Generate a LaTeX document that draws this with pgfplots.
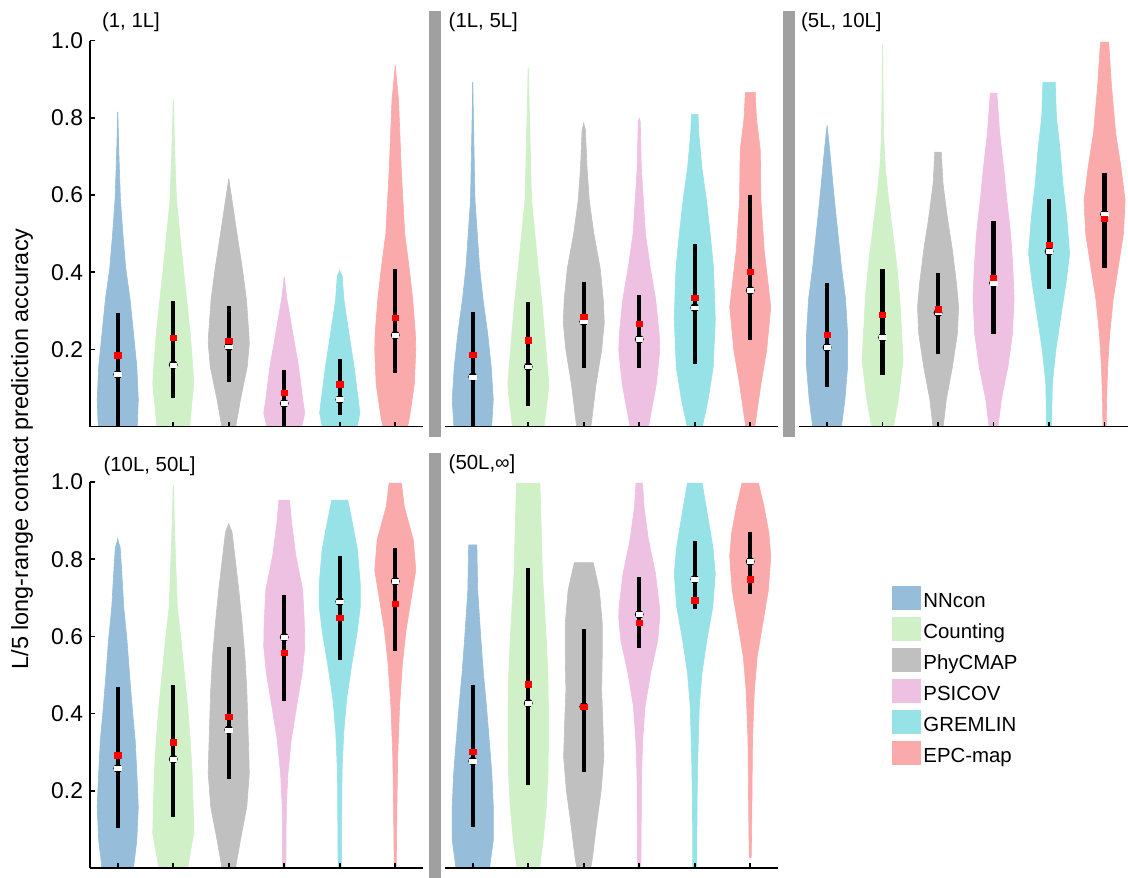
\documentclass[border=0pt]{standalone}
\usepackage{pgfplots}
\pgfplotsset{compat=1.18}
\usepackage{pgfplotstable}
\usepackage{fontspec}
\setmainfont{Liberation Sans}

\definecolor{cA}{RGB}{150,190,218}
\definecolor{cB}{RGB}{208,240,200}
\definecolor{cC}{RGB}{192,192,192}
\definecolor{cD}{RGB}{238,192,226}
\definecolor{cE}{RGB}{150,226,230}
\definecolor{cF}{RGB}{250,170,170}
\definecolor{gbar}{RGB}{160,160,160}

% ---------- violin profiles: y, relative half width ----------
% Panel (1,1L]
\pgfplotstableread[row sep=\\]{y w\\ 0 0\\ 0 0.95\\ 0.07 1.0\\ 0.155 0.93\\ 0.24 0.77\\ 0.33 0.6\\ 0.41 0.39\\ 0.5 0.25\\ 0.59 0.13\\ 0.7 0.06\\ 0.815 0\\ 0 0\\}\vAa
\pgfplotstableread[row sep=\\]{y w\\ 0 0\\ 0 0.8\\ 0.07 0.92\\ 0.11 1.0\\ 0.155 0.95\\ 0.24 0.83\\ 0.41 0.49\\ 0.5 0.32\\ 0.586 0.16\\ 0.7 0.08\\ 0.845 0\\ 0 0\\}\vAb
\pgfplotstableread[row sep=\\]{y w\\ 0 0\\ 0 0.34\\ 0.07 0.57\\ 0.155 0.9\\ 0.215 1.0\\ 0.24 0.98\\ 0.33 0.86\\ 0.414 0.65\\ 0.5 0.4\\ 0.586 0.16\\ 0.642 0\\ 0 0\\}\vAc
\pgfplotstableread[row sep=\\]{y w\\ 0 0\\ 0 0.85\\ 0.035 1.0\\ 0.07 0.9\\ 0.155 0.7\\ 0.24 0.42\\ 0.33 0.13\\ 0.388 0\\ 0 0\\}\vAd
\pgfplotstableread[row sep=\\]{y w\\ 0 0\\ 0 0.85\\ 0.035 0.98\\ 0.07 0.9\\ 0.155 0.7\\ 0.24 0.45\\ 0.33 0.2\\ 0.39 0.12\\ 0.403 0\\ 0 0\\}\vAe
\pgfplotstableread[row sep=\\]{y w\\ 0 0\\ 0 0.6\\ 0.026 0.7\\ 0.11 0.93\\ 0.2 1.0\\ 0.24 0.98\\ 0.33 0.85\\ 0.41 0.68\\ 0.5 0.46\\ 0.67 0.29\\ 0.845 0.16\\ 0.935 0\\ 0 0\\}\vAf
% Panel (1L,5L]
\pgfplotstableread[row sep=\\]{y w\\ 0 0\\ 0 0.92\\ 0.07 1.0\\ 0.155 0.9\\ 0.24 0.73\\ 0.33 0.5\\ 0.414 0.33\\ 0.586 0.11\\ 0.75 0.05\\ 0.892 0\\ 0 0\\}\vBa
\pgfplotstableread[row sep=\\]{y w\\ 0 0\\ 0 0.77\\ 0.07 0.93\\ 0.11 1.0\\ 0.24 0.8\\ 0.33 0.65\\ 0.41 0.49\\ 0.586 0.16\\ 0.76 0.08\\ 0.93 0\\ 0 0\\}\vBb
\pgfplotstableread[row sep=\\]{y w\\ 0 0\\ 0 0.35\\ 0.11 0.6\\ 0.198 0.87\\ 0.27 1.0\\ 0.33 0.95\\ 0.41 0.8\\ 0.5 0.49\\ 0.586 0.27\\ 0.67 0.16\\ 0.77 0.08\\ 0.784 0\\ 0 0\\}\vBc
\pgfplotstableread[row sep=\\]{y w\\ 0 0\\ 0 0.45\\ 0.11 0.83\\ 0.198 1.0\\ 0.24 0.97\\ 0.33 0.8\\ 0.414 0.53\\ 0.5 0.3\\ 0.67 0.1\\ 0.79 0.05\\ 0.797 0\\ 0 0\\}\vBd
\pgfplotstableread[row sep=\\]{y w\\ 0 0\\ 0 0.37\\ 0.07 0.65\\ 0.155 0.9\\ 0.28 1.0\\ 0.414 0.91\\ 0.5 0.75\\ 0.586 0.57\\ 0.67 0.35\\ 0.758 0.2\\ 0.809 0.16\\ 0.809 0\\ 0 0\\}\vBe
\pgfplotstableread[row sep=\\]{y w\\ 0 0\\ 0 0.22\\ 0.11 0.52\\ 0.198 0.8\\ 0.31 1.0\\ 0.457 0.68\\ 0.586 0.52\\ 0.715 0.49\\ 0.8 0.3\\ 0.866 0.24\\ 0.866 0\\ 0 0\\}\vBf
% Panel (5L,10L]
\pgfplotstableread[row sep=\\]{y w\\ 0 0\\ 0 0.7\\ 0.07 0.87\\ 0.155 1.0\\ 0.24 1.0\\ 0.33 0.9\\ 0.414 0.7\\ 0.5 0.53\\ 0.586 0.36\\ 0.716 0.13\\ 0.78 0\\ 0 0\\}\vCa
\pgfplotstableread[row sep=\\]{y w\\ 0 0\\ 0 0.53\\ 0.07 0.77\\ 0.172 1.0\\ 0.24 0.93\\ 0.33 0.84\\ 0.414 0.7\\ 0.5 0.5\\ 0.586 0.3\\ 0.672 0.13\\ 0.76 0.05\\ 0.99 0\\ 0 0\\}\vCb
\pgfplotstableread[row sep=\\]{y w\\ 0 0\\ 0 0.25\\ 0.07 0.4\\ 0.155 0.7\\ 0.24 0.94\\ 0.31 1.0\\ 0.37 0.9\\ 0.457 0.7\\ 0.543 0.45\\ 0.63 0.24\\ 0.711 0.16\\ 0.711 0\\ 0 0\\}\vCc
\pgfplotstableread[row sep=\\]{y w\\ 0 0\\ 0 0.22\\ 0.07 0.38\\ 0.155 0.7\\ 0.24 0.92\\ 0.33 1.0\\ 0.414 0.94\\ 0.5 0.83\\ 0.586 0.65\\ 0.672 0.49\\ 0.76 0.3\\ 0.864 0.16\\ 0.864 0\\ 0 0\\}\vCd
\pgfplotstableread[row sep=\\]{y w\\ 0 0\\ 0 0.12\\ 0.112 0.16\\ 0.198 0.33\\ 0.284 0.57\\ 0.37 0.82\\ 0.448 1.0\\ 0.543 0.86\\ 0.63 0.67\\ 0.716 0.54\\ 0.8 0.36\\ 0.892 0.3\\ 0.892 0\\ 0 0\\}\vCe
\pgfplotstableread[row sep=\\]{y w\\ 0 0\\ 0 0.08\\ 0.07 0.1\\ 0.155 0.15\\ 0.24 0.25\\ 0.33 0.42\\ 0.414 0.67\\ 0.5 0.92\\ 0.586 1.0\\ 0.672 0.8\\ 0.76 0.54\\ 0.888 0.33\\ 0.996 0.2\\ 0.996 0\\ 0 0\\}\vCf
% Panel (10L,50L]
\pgfplotstableread[row sep=\\]{y w\\ 0 0\\ 0 0.77\\ 0.073 0.93\\ 0.159 1.0\\ 0.245 0.93\\ 0.33 0.85\\ 0.418 0.7\\ 0.504 0.57\\ 0.59 0.45\\ 0.677 0.29\\ 0.763 0.2\\ 0.83 0.12\\ 0.851 0\\ 0 0\\}\vDa
\pgfplotstableread[row sep=\\]{y w\\ 0 0\\ 0 0.7\\ 0.09 1.0\\ 0.159 0.97\\ 0.245 0.92\\ 0.33 0.83\\ 0.418 0.7\\ 0.504 0.54\\ 0.59 0.38\\ 0.677 0.2\\ 0.85 0.08\\ 0.992 0\\ 0 0\\}\vDb
\pgfplotstableread[row sep=\\]{y w\\ 0 0\\ 0 0.33\\ 0.073 0.57\\ 0.159 0.88\\ 0.245 1.0\\ 0.288 0.98\\ 0.375 0.93\\ 0.46 0.88\\ 0.547 0.79\\ 0.634 0.65\\ 0.72 0.49\\ 0.806 0.3\\ 0.87 0.16\\ 0.891 0\\ 0 0\\}\vDc
\pgfplotstableread[row sep=\\]{y w\\ 0 0\\ 0 0.08\\ 0.159 0.1\\ 0.245 0.18\\ 0.332 0.34\\ 0.418 0.6\\ 0.504 0.87\\ 0.573 1.0\\ 0.634 0.98\\ 0.72 0.9\\ 0.807 0.57\\ 0.893 0.36\\ 0.953 0.26\\ 0.953 0\\ 0 0\\}\vDd
\pgfplotstableread[row sep=\\]{y w\\ 0 0\\ 0 0.08\\ 0.245 0.11\\ 0.349 0.19\\ 0.435 0.33\\ 0.522 0.57\\ 0.608 0.84\\ 0.677 1.0\\ 0.737 1.0\\ 0.824 0.86\\ 0.893 0.62\\ 0.953 0.39\\ 0.953 0\\ 0 0\\}\vDe
\pgfplotstableread[row sep=\\]{y w\\ 0 0\\ 0 0.05\\ 0.159 0.08\\ 0.288 0.12\\ 0.418 0.21\\ 0.53 0.35\\ 0.617 0.53\\ 0.703 0.79\\ 0.772 1.0\\ 0.85 0.88\\ 0.936 0.44\\ 0.997 0.3\\ 0.997 0\\ 0 0\\}\vDf
% Panel (50L,inf]
\pgfplotstableread[row sep=\\]{y w\\ 0 0\\ 0 0.82\\ 0.073 1.0\\ 0.159 1.0\\ 0.245 0.93\\ 0.332 0.8\\ 0.418 0.67\\ 0.504 0.52\\ 0.59 0.4\\ 0.72 0.24\\ 0.837 0.2\\ 0.837 0\\ 0 0\\}\vEa
\pgfplotstableread[row sep=\\]{y w\\ 0 0\\ 0 0.55\\ 0.073 0.73\\ 0.159 0.88\\ 0.245 0.96\\ 0.332 0.98\\ 0.418 0.98\\ 0.504 0.95\\ 0.59 0.88\\ 0.677 0.79\\ 0.763 0.69\\ 0.85 0.65\\ 0.997 0.57\\ 0.997 0\\ 0 0\\}\vEb
\pgfplotstableread[row sep=\\]{y w\\ 0 0\\ 0 0.34\\ 0.029 0.43\\ 0.116 0.63\\ 0.202 0.85\\ 0.288 0.98\\ 0.375 0.93\\ 0.461 0.87\\ 0.547 0.9\\ 0.634 0.9\\ 0.72 0.76\\ 0.791 0.46\\ 0.791 0\\ 0 0\\}\vEc
\pgfplotstableread[row sep=\\]{y w\\ 0 0\\ 0 0.08\\ 0.245 0.11\\ 0.332 0.17\\ 0.418 0.28\\ 0.504 0.55\\ 0.59 0.9\\ 0.651 1.0\\ 0.677 0.98\\ 0.763 0.79\\ 0.85 0.45\\ 0.936 0.23\\ 0.997 0.16\\ 0.997 0\\ 0 0\\}\vEd
\pgfplotstableread[row sep=\\]{y w\\ 0 0\\ 0 0.1\\ 0.159 0.11\\ 0.288 0.15\\ 0.418 0.22\\ 0.504 0.35\\ 0.59 0.59\\ 0.677 0.88\\ 0.763 1.0\\ 0.832 0.88\\ 0.919 0.61\\ 0.997 0.36\\ 0.997 0\\ 0 0\\}\vEe
\pgfplotstableread[row sep=\\]{y w\\ 0.025 0\\ 0.03 0.05\\ 0.159 0.08\\ 0.332 0.11\\ 0.461 0.2\\ 0.548 0.34\\ 0.634 0.61\\ 0.72 0.88\\ 0.807 1.0\\ 0.867 0.91\\ 0.936 0.67\\ 0.997 0.4\\ 0.997 0\\ 0.025 0\\}\vEf

% ---------- box statistics: position, lower, upper, median, mean ----------
\pgfplotstableread[row sep=\\]{x lo hi med mean\\
1 0 0.293 0.135 0.185\\ 2 0.075 0.325 0.16 0.231\\ 3 0.116 0.312 0.207 0.222\\
4 0 0.147 0.06 0.088\\ 5 0.03 0.174 0.07 0.11\\ 6 0.14 0.409 0.237 0.283\\}\sA
\pgfplotstableread[row sep=\\]{x lo hi med mean\\
1 0 0.297 0.129 0.187\\ 2 0.053 0.323 0.155 0.224\\ 3 0.153 0.375 0.272 0.284\\
4 0.153 0.34 0.226 0.266\\ 5 0.162 0.474 0.308 0.334\\ 6 0.224 0.6 0.353 0.401\\}\sB
\pgfplotstableread[row sep=\\]{x lo hi med mean\\
1 0.103 0.372 0.205 0.239\\ 2 0.134 0.408 0.231 0.289\\ 3 0.188 0.398 0.295 0.304\\
4 0.239 0.533 0.372 0.385\\ 5 0.356 0.589 0.454 0.472\\ 6 0.412 0.658 0.55 0.538\\}\sC
\pgfplotstableread[row sep=\\]{x lo hi med mean\\
1 0.103 0.468 0.258 0.292\\ 2 0.131 0.473 0.282 0.326\\ 3 0.231 0.572 0.358 0.392\\
4 0.432 0.707 0.598 0.558\\ 5 0.539 0.807 0.69 0.649\\ 6 0.563 0.828 0.743 0.684\\}\sD
\pgfplotstableread[row sep=\\]{x lo hi med mean\\
1 0.107 0.474 0.277 0.301\\ 2 0.215 0.778 0.427 0.476\\ 3 0.248 0.619 0.418 0.418\\
4 0.571 0.755 0.657 0.636\\ 5 0.67 0.848 0.748 0.694\\ 6 0.71 0.87 0.794 0.748\\}\sE

\newcommand{\violin}[3]{%
  \addplot[fill=#2, draw=#2, line width=0.3pt] table[x expr={#1-0.37*\thisrow{w}}, y=y] {#3};
  \addplot[fill=#2, draw=#2, line width=0.3pt] table[x expr={#1+0.37*\thisrow{w}}, y=y] {#3};
}
\newcommand{\stats}[1]{%
  \addplot[only marks, mark=none, error bars/.cd, y dir=both, y explicit, error mark=none,
    error bar style={draw=black, line width=2.2pt}]
    table[x=x, y=med, y error plus expr={\thisrow{hi}-\thisrow{med}}, y error minus expr={\thisrow{med}-\thisrow{lo}}] {#1};
  \addplot[white, only marks, mark=square*, mark size=1.6pt, mark options={fill=white, draw=white, line width=0.2pt, yscale=0.6}] table[x=x, y=med] {#1};
  \addplot[red, only marks, mark=square*, mark size=1.55pt, mark options={fill=red, draw=red, line width=0.2pt, yscale=0.85}] table[x=x, y=mean] {#1};
}

\pgfplotsset{
  firstcol/.style={axis y line=left},
  othercol/.style={axis y line=none},
  vpanel/.style={
    scale only axis, width=166.5pt, height=193pt,
    anchor=south west,
    xmin=0.5, xmax=6.5, ymin=0, ymax=1,
    axis x line=bottom,
    xtick={1,2,3,4,5,6}, xticklabels={},
    ytick={0.2,0.4,0.6,0.8,1.0},
    tick align=inside, xtick align=inside, ytick align=inside,
    major tick length=2.5pt,
    tick style={black, line width=0.8pt},
    axis on top,
    axis line style={-, line width=0.9pt},
    x axis line style={-}, y axis line style={-},
    yticklabel style={font=\fontsize{11.4}{13}\selectfont,
      /pgf/number format/fixed, /pgf/number format/fixed zerofill, /pgf/number format/precision=1},
    /pgf/number format/assume math mode=true,
  },
}

\begin{document}
\begin{tikzpicture}
\path[use as bounding box] (0,0) rectangle (564pt,438.5pt);

\fill[gbar] (214.65pt,220.15pt) rectangle (220.35pt,433.15pt);
\fill[gbar] (391.35pt,220.15pt) rectangle (397.35pt,433.15pt);
\fill[gbar] (214.65pt,-2pt) rectangle (220.35pt,212.15pt);

\begin{axis}[firstcol, vpanel, at={(45pt,225.2pt)}]
  \violin{1}{cA}{\vAa}
  \violin{2}{cB}{\vAb}
  \violin{3}{cC}{\vAc}
  \violin{4}{cD}{\vAd}
  \violin{5}{cE}{\vAe}
  \violin{6}{cF}{\vAf}
  \stats{\sA}
\end{axis}
\begin{axis}[othercol, vpanel, at={(222.5pt,225.2pt)}]
  \violin{1}{cA}{\vBa}
  \violin{2}{cB}{\vBb}
  \violin{3}{cC}{\vBc}
  \violin{4}{cD}{\vBd}
  \violin{5}{cE}{\vBe}
  \violin{6}{cF}{\vBf}
  \stats{\sB}
\end{axis}
\begin{axis}[othercol, vpanel, at={(399.65pt,225.2pt)}]
  \violin{1}{cA}{\vCa}
  \violin{2}{cB}{\vCb}
  \violin{3}{cC}{\vCc}
  \violin{4}{cD}{\vCd}
  \violin{5}{cE}{\vCe}
  \violin{6}{cF}{\vCf}
  \stats{\sC}
\end{axis}
\begin{axis}[firstcol, vpanel, at={(45pt,4.5pt)}]
  \violin{1}{cA}{\vDa}
  \violin{2}{cB}{\vDb}
  \violin{3}{cC}{\vDc}
  \violin{4}{cD}{\vDd}
  \violin{5}{cE}{\vDe}
  \violin{6}{cF}{\vDf}
  \stats{\sD}
\end{axis}
\begin{axis}[othercol, vpanel, at={(222.5pt,4.5pt)}]
  \violin{1}{cA}{\vEa}
  \violin{2}{cB}{\vEb}
  \violin{3}{cC}{\vEc}
  \violin{4}{cD}{\vEd}
  \violin{5}{cE}{\vEe}
  \violin{6}{cF}{\vEf}
  \stats{\sE}
\end{axis}

\begin{scope}[every node/.style={anchor=west, inner sep=0pt, font=\fontsize{10.2}{12}\selectfont}]
  \node at (50.85pt,427.25pt) {(1, 1L]};
  \node at (224.15pt,427.4pt) {(1L, 5L]};
  \node at (400.35pt,427.4pt) {(5L, 10L]};
  \node at (51.6pt,205.4pt) {(10L, 50L]};
  \node at (224.15pt,206.4pt) {(50L,∞]};
\end{scope}

\node[rotate=90, inner sep=0pt, font=\fontsize{11.7}{14}\selectfont] at (11pt,214pt)
  {L/5 long-range contact prediction accuracy};

\foreach \c/\t [count=\i from 0] in {cA/NNcon, cB/Counting, cC/PhyCMAP, cD/PSICOV, cE/GREMLIN, cF/EPC-map} {
  \fill[\c] (445.85pt,{(133.5-15.5*\i)*1pt}) rectangle (460.35pt,{(145.5-15.5*\i)*1pt});
  \node[anchor=base west, inner sep=0pt, font=\fontsize{10.2}{12}\selectfont] at (461.5pt,{(134.65-15.5*\i)*1pt}) {\t};
}
\end{tikzpicture}
\end{document}
